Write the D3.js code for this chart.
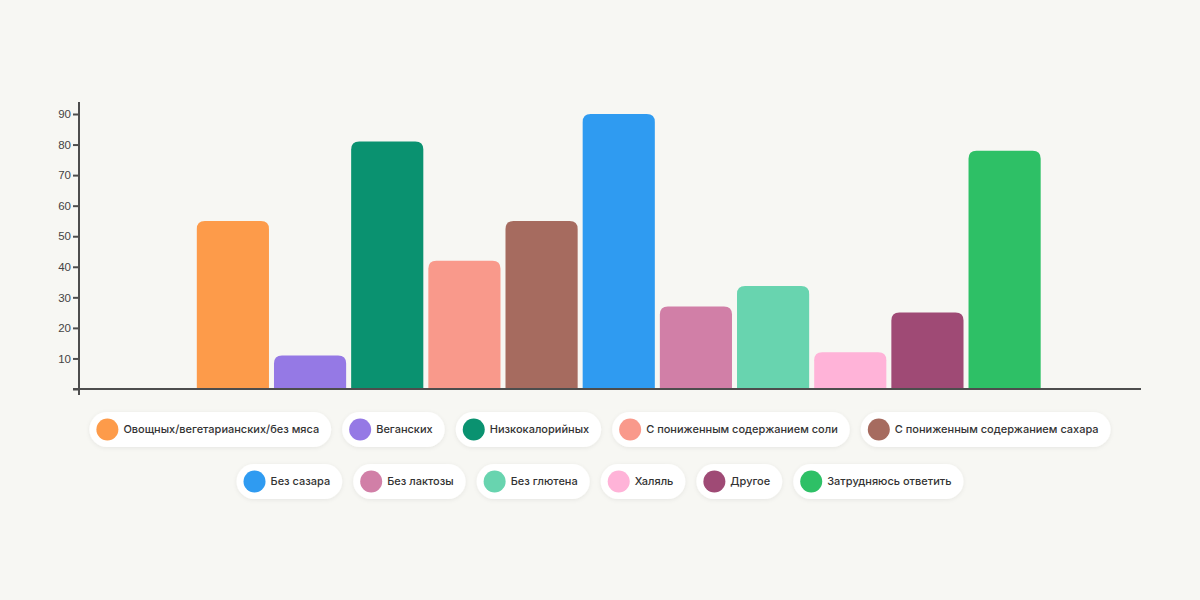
<!DOCTYPE html>
<html>
<head>
<meta charset="utf-8">
<script src="https://cdn.jsdelivr.net/npm/d3@7"></script>
<style>
  body { margin: 0; background: #f7f7f3; }
  svg { display: block; }
</style>
</head>
<body>
<script>
// categories, values and colours
const categories = [
  'Овощных/вегетарианских/без мяса',
  'Веганских',
  'Низкокалорийных',
  'С пониженным содержанием соли',
  'С пониженным содержанием сахара',
  'Без сазара',
  'Без лактозы',
  'Без глютена',
  'Халяль',
  'Другое',
  'Затрудняюсь ответить'
];
const values = [55, 11, 81, 42, 55, 90, 27, 33.7, 12, 25, 78];
const colors = ['#fd9b4a', '#9579e5', '#0a9270', '#f9998b', '#a66b5f', '#2f9bf1',
  '#d17fa7', '#68d4af', '#ffb3d8', '#9f4a75', '#2ec066'];
const yTicks = [10, 20, 30, 40, 50, 60, 70, 80, 90];
// legend rows: indexes into categories
const legendRows = [[0, 1, 2, 3, 4], [5, 6, 7, 8, 9, 10]];

const width = 1200;
const height = 600;
const axisX = 79;
const baseY = 389;

const svg = d3.select('body')
  .append('svg')
  .attr('width', width)
  .attr('height', height)
  .style('font-family', 'Inter, "Noto Sans", sans-serif');

svg.append('rect')
  .attr('width', width)
  .attr('height', height)
  .attr('fill', '#f7f7f3');

const defs = svg.append('defs');
const shadow = defs.append('filter')
  .attr('id', 'pill-shadow')
  .attr('x', '-20%').attr('y', '-40%')
  .attr('width', '140%').attr('height', '180%');
shadow.append('feDropShadow')
  .attr('dx', 0).attr('dy', 1)
  .attr('stdDeviation', 2)
  .attr('flood-color', '#000')
  .attr('flood-opacity', 0.07);

// scales
const x = d3.scaleBand()
  .domain(categories)
  .range([194.5, 1043])
  .paddingInner(0.065)
  .paddingOuter(0.03);

const y = d3.scaleLinear()
  .domain([0, 90])
  .range([baseY, 114]);

// bars with rounded top corners only
const r = 8;
function barPath(d, i) {
  const x0 = x(d);
  const w = x.bandwidth();
  const top = y(values[i]);
  const h = baseY - top;
  const rr = Math.min(r, h / 2);
  return `M${x0},${baseY}` +
    `V${top + rr}` +
    `Q${x0},${top} ${x0 + rr},${top}` +
    `H${x0 + w - rr}` +
    `Q${x0 + w},${top} ${x0 + w},${top + rr}` +
    `V${baseY}Z`;
}

svg.append('g')
  .selectAll('path')
  .data(categories)
  .join('path')
  .attr('d', barPath)
  .attr('fill', (d, i) => colors[i]);

// y axis
const yAxis = svg.append('g')
  .attr('transform', `translate(${axisX},0)`)
  .call(d3.axisLeft(y).tickValues([0].concat(yTicks)).tickSize(6).tickFormat(d => d === 0 ? '' : d));
yAxis.select('.domain').remove();
yAxis.selectAll('.tick line')
  .attr('stroke', '#4d4d4d')
  .attr('stroke-width', 2);
yAxis.selectAll('.tick text')
  .attr('x', -8)
  .attr('fill', '#444')
  .style('font-size', '11.5px')
  .style('font-weight', 500);

svg.append('line')
  .attr('x1', axisX).attr('x2', axisX)
  .attr('y1', 102).attr('y2', 395)
  .attr('stroke', '#4d4d4d')
  .attr('stroke-width', 2);

svg.append('line')
  .attr('x1', 73).attr('x2', 1141)
  .attr('y1', baseY).attr('y2', baseY)
  .attr('stroke', '#4d4d4d')
  .attr('stroke-width', 2);

// legend pills
const rowY = [429.5, 481.5];
const gap = 11;
legendRows.forEach((row, ri) => {
  const g = svg.append('g');
  const items = row.map(idx => {
    const item = g.append('g');
    const rect = item.append('rect');
    item.append('circle')
      .attr('cx', 18)
      .attr('r', 11)
      .attr('fill', colors[idx]);
    const text = item.append('text')
      .attr('x', 34)
      .attr('dy', '0.35em')
      .attr('fill', '#333')
      .style('font-size', '11px')
      .style('font-weight', 500)
      .text(categories[idx]);
    const w = 34 + text.node().getComputedTextLength() + 12;
    rect.attr('x', 0)
      .attr('y', -17.5)
      .attr('width', w)
      .attr('height', 35)
      .attr('rx', 17.5)
      .attr('fill', '#fff')
      .attr('filter', 'url(#pill-shadow)');
    return { item, w };
  });
  const total = d3.sum(items, d => d.w) + gap * (items.length - 1);
  let cx = 600 - total / 2;
  items.forEach(d => {
    d.item.attr('transform', `translate(${cx},${rowY[ri]})`);
    cx += d.w + gap;
  });
});
</script>
</body>
</html>
